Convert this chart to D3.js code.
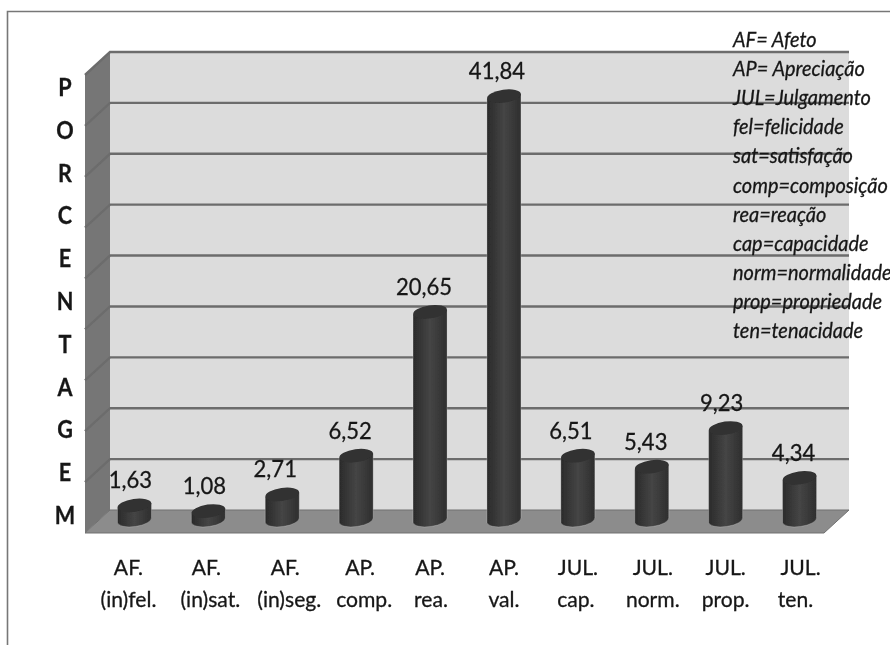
<!DOCTYPE html>
<html>
<head>
    <meta http-equiv="Content-Type" content="text/html;charset=utf8" />
    <title>Porcentagem</title>
    <script src="https://d3js.org/d3.v7.min.js"></script>
    <style>
        html, body { margin: 0; padding: 0; background: #fff; }
        svg { display: block; }
        text { font-family: Lato, "Open Sans", sans-serif; fill: #161616; stroke: #161616; stroke-width: 0.3; }
    </style>
</head>
<body>
<div id="chart"></div>
<script>
    var categories = ["AF.|(in)fel.", "AF.|(in)sat.", "AF.|(in)seg.", "AP.|comp.", "AP.|rea.", "AP.|val.", "JUL.|cap.", "JUL.|norm.", "JUL.|prop.", "JUL.|ten."];
    var values = [1.63, 1.08, 2.71, 6.52, 20.65, 41.84, 6.51, 5.43, 9.23, 4.34];
    var valueLabels = ["1,63", "1,08", "2,71", "6,52", "20,65", "41,84", "6,51", "5,43", "9,23", "4,34"];
    var yTicks = [0, 5, 10, 15, 20, 25, 30, 35, 40, 45];
    var sideTitle = ["P", "O", "R", "C", "E", "N", "T", "A", "G", "E", "M"];
    var legendLines = ["AF= Afeto", "AP= Apreciação", "JUL=Julgamento", "fel=felicidade", "sat=satisfação", "comp=composição", "rea=reação", "cap=capacidade", "norm=normalidade", "prop=propriedade", "ten=tenacidade"];

    var width = 890, height = 645;
    var wallL = 110, wallR = 849, depthX = 25, depthY = 23;

    var svg = d3.select("#chart").append("svg").attr("width", width).attr("height", height);

    var defs = svg.append("defs");
    defs.append("filter").attr("id", "soft").append("feGaussianBlur").attr("stdDeviation", 0.5);
    var grad = defs.append("linearGradient").attr("id", "cyl");
    grad.append("stop").attr("offset", "0%").attr("stop-color", "#2a2a2a");
    grad.append("stop").attr("offset", "50%").attr("stop-color", "#454545");
    grad.append("stop").attr("offset", "100%").attr("stop-color", "#2e2e2e");

    var root = svg.append("g").attr("filter", "url(#soft)");

    var x = d3.scaleBand().domain(d3.range(categories.length)).range([97, 836]).padding(0);
    var y = d3.scaleLinear().domain([0, 45]).range([510, 52]);

    // squeezed text: Lato is wider than the font of the picture
    function squeeze(sel, k, xFn, yFn) {
        sel.attr("transform", function(d, i) {
            return "translate(" + xFn(d, i) + "," + yFn(d, i) + ") scale(" + k + ",1)";
        });
    }

    // outer frame, only top and left
    root.append("path").attr("d", "M7.5,645V11.5H890").attr("fill", "none").attr("stroke", "#777").attr("stroke-width", 1.6);

    // back wall, side wall, floor
    root.append("rect").attr("x", wallL).attr("y", y(45)).attr("width", wallR - wallL).attr("height", y(0) - y(45)).attr("fill", "#dcdcdc");
    root.append("polygon").attr("fill", "#767676")
        .attr("points", [[wallL, y(45)], [wallL, y(0)], [wallL - depthX, y(0) + depthY], [wallL - depthX, y(45) + depthY]].join(" "));
    root.append("polygon").attr("fill", "#8c8c8c").attr("stroke", "#707070").attr("stroke-width", 1)
        .attr("points", [[wallL, y(0)], [wallR, y(0)], [wallR - depthX, y(0) + depthY], [wallL - depthX, y(0) + depthY]].join(" "));

    // gridlines
    root.selectAll(".grid").data(yTicks.slice(1)).enter().append("path")
        .attr("class", "grid")
        .attr("fill", "none").attr("stroke", "#6c6c6c").attr("stroke-width", 2.4)
        .attr("d", function(d) {
            return "M" + (wallL - depthX) + "," + (y(d) + depthY) + "L" + wallL + "," + y(d) + "H" + wallR;
        });

    // cylinders
    var rx = 17, ry = 6.5, tilt = -8, lift = 2.4;
    var bar = root.selectAll(".bar").data(values).enter().append("g").attr("class", "bar");

    function cx(i) { return x(i) + x.bandwidth() / 2 + 0.5; }
    function topY(d) { return y(d) + 12; }
    var baseY = y(0) + 10;

    bar.append("path")
        .attr("fill", "url(#cyl)")
        .attr("stroke", "#f4f4f4").attr("stroke-opacity", 0.25).attr("stroke-width", 1)
        .attr("d", function(d, i) {
            var l = cx(i) - rx, r = cx(i) + rx;
            return "M" + l + "," + (topY(d) + lift) + "L" + l + "," + (baseY + lift) +
                "A" + rx + "," + ry + "," + tilt + ",0,0," + r + "," + (baseY - lift) +
                "L" + r + "," + (topY(d) - lift) + "Z";
        });

    bar.append("ellipse")
        .attr("rx", rx).attr("ry", ry).attr("fill", "#303030")
        .attr("transform", function(d, i) { return "translate(" + cx(i) + "," + topY(d) + ") rotate(" + tilt + ")"; });

    // value labels
    var labelNudge = [-4, -4, -7, -6, -6, -7, -7, -6, -4, -6];
    root.selectAll(".val").data(values).enter().append("text")
        .attr("class", "val")
        .attr("text-anchor", "middle")
        .attr("font-size", 24)
        .call(squeeze, 0.92,
            function(d, i) { return cx(i) + labelNudge[i]; },
            function(d) { return topY(d) - 17; })
        .text(function(d, i) { return valueLabels[i]; });

    // category labels, two lines each
    var line1Nudge = [-6, -2, 3, 4, 0, 0, 0, 1, 0, 1];
    var line2Nudge = [-6, 2, 7, 8, 1, 0, -2, 1, 0, -4];
    var cat = root.selectAll(".cat").data(categories).enter().append("g").attr("class", "cat");
    cat.append("text").attr("text-anchor", "middle").attr("font-size", 22)
        .call(squeeze, 0.96, function(d, i) { return cx(i) + line1Nudge[i]; }, function() { return 575; })
        .text(function(d) { return d.split("|")[0]; });
    cat.append("text").attr("text-anchor", "middle").attr("font-size", 22)
        .call(squeeze, 0.96, function(d, i) { return cx(i) + line2Nudge[i]; }, function() { return 607; })
        .text(function(d) { return d.split("|")[1]; });

    // vertical title, one letter per row
    var titleY = d3.scaleLinear().domain([0, sideTitle.length - 1]).range([96, 524]);
    root.selectAll(".ttl").data(sideTitle).enter().append("text")
        .attr("class", "ttl")
        .attr("text-anchor", "middle").attr("font-size", 24).attr("font-weight", 700)
        .call(squeeze, 0.9, function() { return 65; }, function(d, i) { return titleY(i); })
        .text(function(d) { return d; });

    // legend text
    var legendY = d3.scalePoint().domain(d3.range(legendLines.length)).range([47, 338]);
    root.selectAll(".leg").data(legendLines).enter().append("text")
        .attr("class", "leg")
        .attr("font-size", 21).attr("font-style", "italic")
        .call(squeeze, 0.95, function() { return 733; }, function(d, i) { return legendY(i); })
        .text(function(d) { return d; });
</script>
</body>
</html>
